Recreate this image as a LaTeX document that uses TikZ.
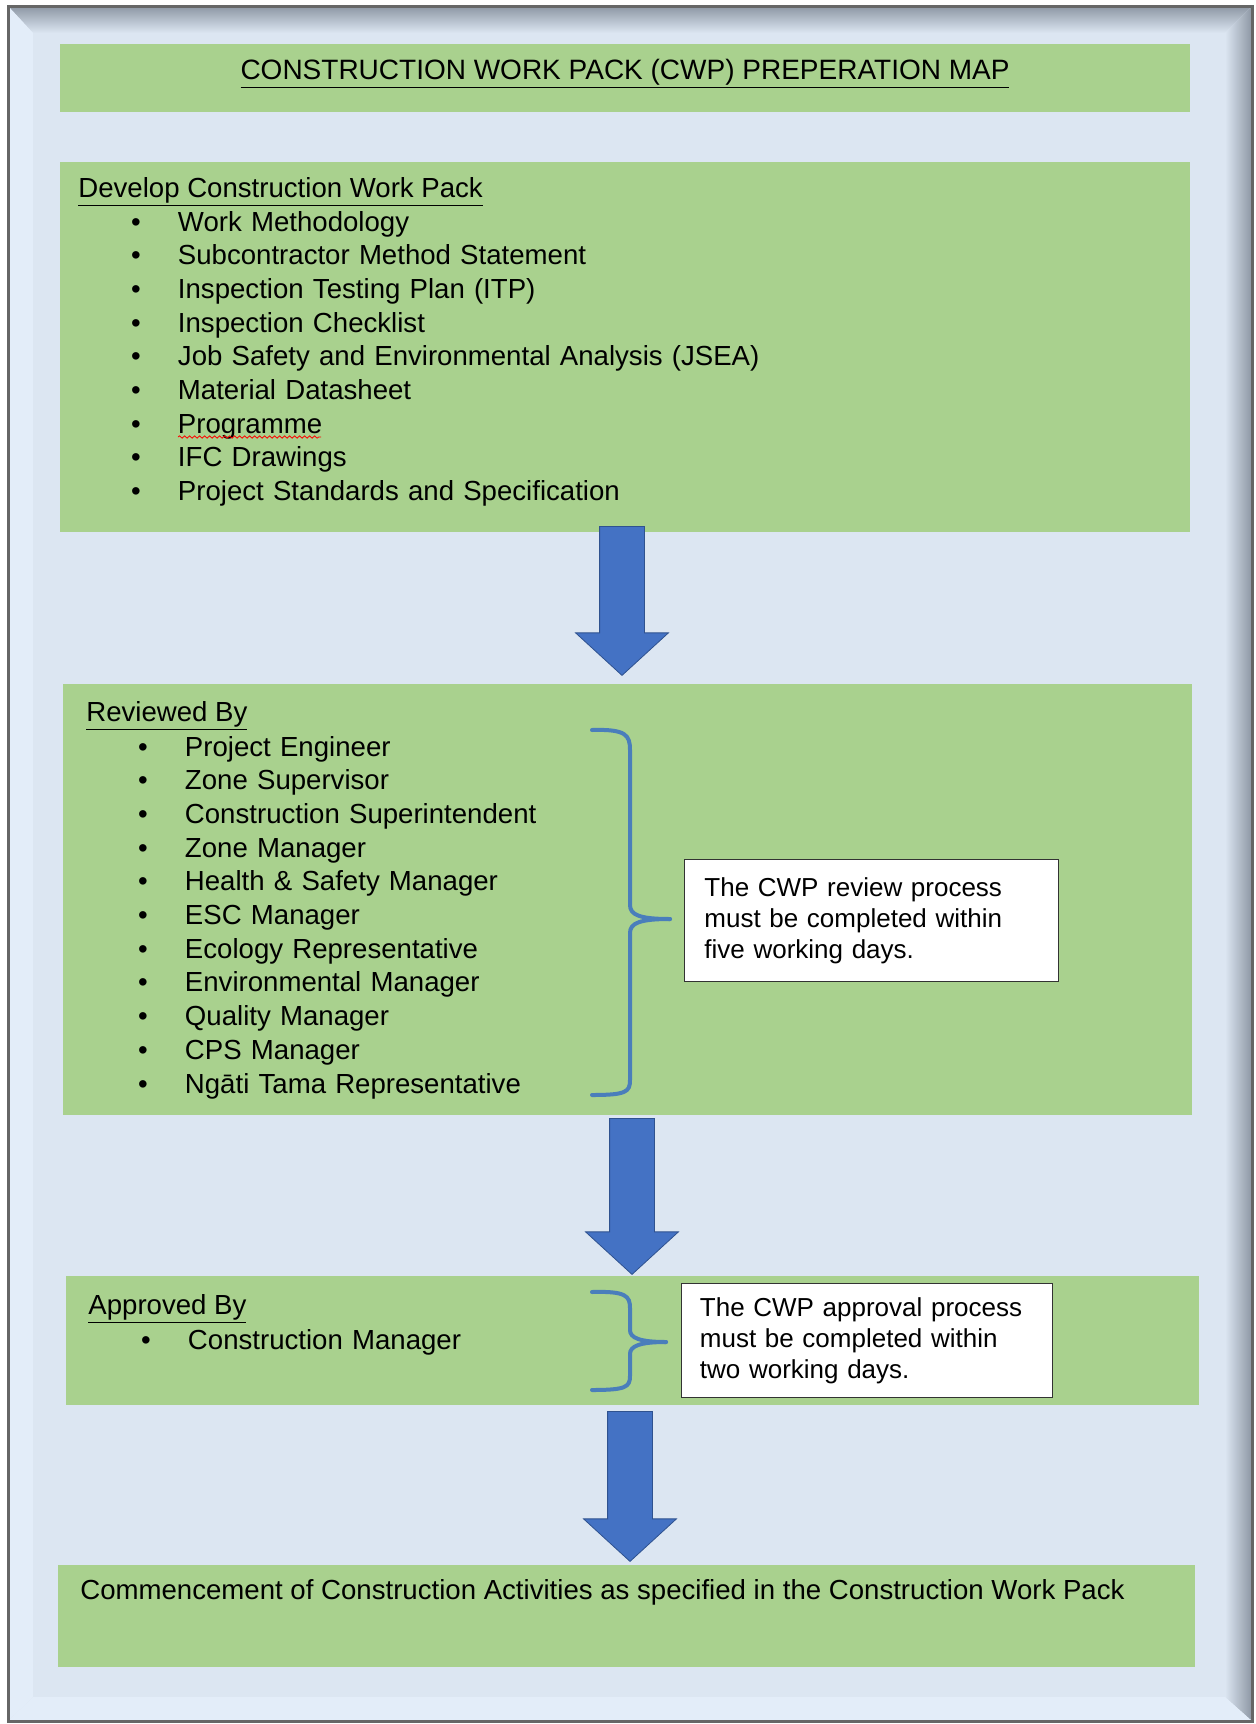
\documentclass[tikz,border=0pt]{standalone}
\usepackage{fontspec}
\setmainfont{Liberation Sans}
\usetikzlibrary{shapes.arrows,positioning,decorations.pathmorphing}

\definecolor{bgblue}{HTML}{DCE6F2}
\definecolor{bevlight}{HTML}{E3EDF9}
\definecolor{framegray}{HTML}{8C96A3}
\definecolor{panelgreen}{HTML}{A9D18E}
\definecolor{arrowblue}{HTML}{4472C4}
\definecolor{arrowedge}{HTML}{2F528F}
\definecolor{bracecol}{HTML}{4A7EBB}

\tikzset{
  panel/.style={fill=panelgreen,anchor=north west,inner sep=0},
  head/.style={anchor=base west,inner sep=0,font=\fontsize{13.8pt}{15pt}\selectfont},
  itm/.style={text width=330pt,align=left,inner sep=0,outer sep=0,text height=9pt,text depth=3.5pt,font=\fontsize{13.8pt}{15pt}\selectfont},
  note/.style={draw=black!80,fill=white,anchor=north west,align=left,inner ysep=0,text width=167pt,font=\fontsize{13pt}{15.5pt}\selectfont},
  blockarr/.style={shape=single arrow,draw=arrowedge,fill=arrowblue,rotate=-90,anchor=tail,
    inner xsep=0,inner ysep=11pt,single arrow head extend=12pt,single arrow tip angle=95},
  curly/.style={draw=bracecol,line width=2pt,line cap=round,line join=round}
}
\newcommand{\bul}{\makebox[23.5pt][l]{\textbullet}}

\begin{document}
\begin{tikzpicture}[x=0.5pt,y=-0.5pt,node distance=4.35pt]
  \useasboundingbox (0,0) rectangle (1255,1724);
  % frame
  \fill[white] (0,0) rectangle (1255,1724);
  \fill[bgblue] (8,6) rectangle (1252,1721);
  \shade[top color=framegray,bottom color=bgblue] (8,6) -- (1252,6) -- (1225,33) -- (33,33) -- cycle;
  \fill[bevlight] (8,6) -- (33,33) -- (33,1697) -- (8,1721) -- cycle;
  \shade[left color=bgblue,right color=framegray] (1252,6) -- (1225,33) -- (1225,1697) -- (1252,1721) -- cycle;
  \fill[bevlight] (8,1721) -- (33,1697) -- (1225,1697) -- (1252,1721) -- cycle;
  \draw[black!60,line width=1.5pt] (8,6) rectangle (1252,1721);

  % panels
  \node[panel,minimum width=565pt,minimum height=34pt] (title) at (60,44) {};
  \node[panel,minimum width=565pt,minimum height=185pt] (develop) at (60,162) {};
  \node[panel,minimum width=564.5pt,minimum height=215.5pt] (review) at (63,684) {};
  \node[panel,minimum width=566.5pt,minimum height=64.5pt] (approve) at (66,1276) {};
  \node[panel,minimum width=568.5pt,minimum height=51pt] (start) at (58,1565) {};

  \node[anchor=base,inner sep=0,font=\fontsize{14pt}{16pt}\selectfont] (ttl) at (625,79)
    {\underline{CONSTRUCTION WORK PACK (CWP) PREPERATION MAP}};

  % develop
  \node[head] (dh) at (78,197) {\underline{Develop Construction Work Pack}};
  \node[itm,anchor=north west] (w1) at (131,213) {\bul Work Methodology};
  \node[itm,below=of w1] (w2) {\bul Subcontractor Method Statement};
  \node[itm,below=of w2] (w3) {\bul Inspection Testing Plan (ITP)};
  \node[itm,below=of w3] (w4) {\bul Inspection Checklist};
  \node[itm,below=of w4] (w5) {\bul Job Safety and Environmental Analysis (JSEA)};
  \node[itm,below=of w5] (w6) {\bul Material Datasheet};
  \node[itm,below=of w6] (w7) {\bul Programme};
  \node[itm,below=of w7] (w8) {\bul IFC Drawings};
  \node[itm,below=of w8] (w9) {\bul Project Standards and Specification};
  \draw[red,decorate,decoration={snake,amplitude=0.6pt,segment length=2.5pt}] (178,437) -- (321,437);

  \node[blockarr,minimum height=74.5pt] (a1) at (622,526) {};

  % review
  \node[head] (rh) at (86,721) {\underline{Reviewed By}};
  \node[itm,anchor=north west] (r1) at (138,738) {\bul Project Engineer};
  \node[itm,below=of r1] (r2) {\bul Zone Supervisor};
  \node[itm,below=of r2] (r3) {\bul Construction Superintendent};
  \node[itm,below=of r3] (r4) {\bul Zone Manager};
  \node[itm,below=of r4] (r5) {\bul Health \& Safety Manager};
  \node[itm,below=of r5] (r6) {\bul ESC Manager};
  \node[itm,below=of r6] (r7) {\bul Ecology Representative};
  \node[itm,below=of r7] (r8) {\bul Environmental Manager};
  \node[itm,below=of r8] (r9) {\bul Quality Manager};
  \node[itm,below=of r9] (r10) {\bul CPS Manager};
  \node[itm,below=of r10] (r11) {\bul Ngāti Tama Representative};

  \coordinate (rtip) at (670,919);
  \draw[curly] (592,730) .. controls (626,729) and (630,735) .. (630,750) -- (630,905)
    .. controls (630,915) and (640,919) .. (rtip);
  \draw[curly] (rtip) .. controls (640,919) and (630,923) .. (630,933) -- (630,1080)
    .. controls (630,1092) and (626,1095) .. (592,1095);
  \node[note,inner xsep=10pt,minimum height=61pt] (rnote) at (684,859)
    {The CWP review process\\must be completed within\\five working days.};

  \node[blockarr,minimum height=78pt] (a2) at (632,1118) {};

  % approve
  \node[head] (ah) at (88,1314) {\underline{Approved By}};
  \node[itm,anchor=north west] (p1) at (141,1331) {\bul Construction Manager};

  \coordinate (atip) at (666,1342);
  \draw[curly] (592,1292) .. controls (626,1291) and (630,1296) .. (630,1308) -- (630,1330)
    .. controls (630,1338) and (640,1342) .. (atip);
  \draw[curly] (atip) .. controls (640,1342) and (630,1346) .. (630,1354) -- (630,1376)
    .. controls (630,1387) and (626,1390) .. (592,1390);
  \node[note,inner xsep=9.25pt,minimum height=57pt] (anote) at (681,1283)
    {The CWP approval process\\must be completed within\\two working days.};

  \node[blockarr,minimum height=75pt] (a3) at (630,1411) {};

  % commence
  \node[head] (ch) at (80,1599) {Commencement of Construction Activities as specified in the Construction Work Pack};
\end{tikzpicture}
\end{document}
